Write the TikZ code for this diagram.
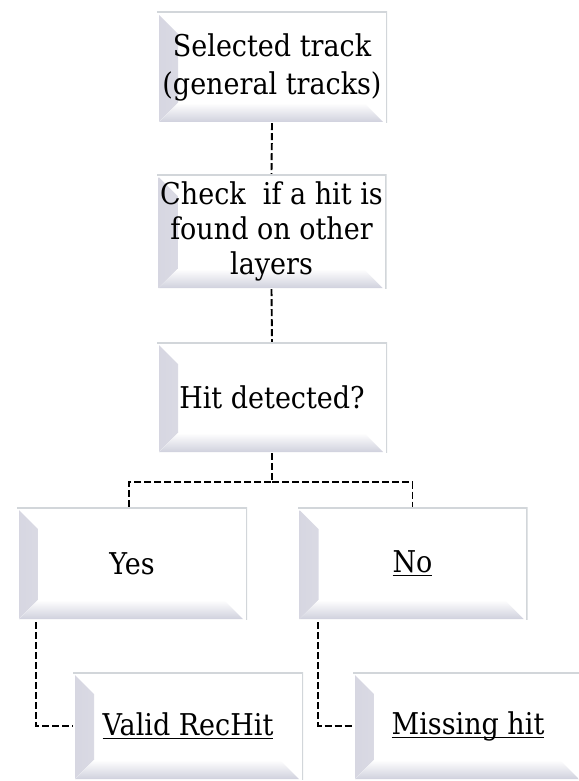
\documentclass[tikz,border=0pt]{standalone}
\usepackage{fontspec}
\setmainfont[FakeStretch=0.9]{DejaVu Serif}
\newcommand\myul[1]{\leavevmode\setbox0=\hbox{#1}\rlap{\copy0}\rule[-4pt]{\wd0}{1.2pt}}
\definecolor{edgegrey}{RGB}{210,214,218}
\definecolor{bevL}{RGB}{214,214,225}
\definecolor{bevB}{RGB}{208,209,221}
\tikzset{
  bevbox/.style={draw=none, fill=white, minimum width=230pt,
    minimum height=111pt, inner sep=0pt, align=center,
    font=\fontsize{30}{38}\selectfont,
    path picture={
      \fill[left color=bevL, right color=white]
        ([shift={(2pt,-3pt)}]path picture bounding box.north west) --
        ([shift={(21pt,-22pt)}]path picture bounding box.north west) --
        ([shift={(21pt,20pt)}]path picture bounding box.south west) --
        ([shift={(2pt,1pt)}]path picture bounding box.south west) -- cycle;
      \fill[top color=white, bottom color=bevB]
        ([shift={(2pt,1pt)}]path picture bounding box.south west) --
        ([shift={(21pt,20pt)}]path picture bounding box.south west) --
        ([shift={(-23pt,20pt)}]path picture bounding box.south east) --
        ([shift={(-4pt,1pt)}]path picture bounding box.south east) -- cycle;
      \draw[edgegrey, line width=3pt]
        (path picture bounding box.north west) --
        (path picture bounding box.north east) --
        (path picture bounding box.south east);
    }},
  conn/.style={draw=black, line width=1.9pt, dash pattern=on 7pt off 3pt}
}
\begin{document}
\begin{tikzpicture}[x=1pt,y=-1pt]
\useasboundingbox (0,0) rectangle (578,781);
\node[bevbox] (b1) at (272,67.5) {Selected track\\(general tracks)};
\node[bevbox, minimum height=115pt, font=\fontsize{30}{35}\selectfont] (b2) at (271.5,231.5) {\rule{0pt}{9pt}Check\ \ if a hit is\\found on other\\layers};
\node[bevbox] (b3) at (272,397.5) {Hit detected?};
\node[bevbox, minimum height=113pt] (yes) at (132,563.5) {Yes};
\node[bevbox, minimum height=113pt] (no) at (412.5,563.5) {\myul{No}};
\node[bevbox, minimum height=108pt] (valid) at (188,726) {\myul{Valid RecHit}};
\node[bevbox, minimum height=108pt] (miss) at (468,726) {\myul{Missing hit}};
\draw[conn] (b1.south) -- (b2.north);
\draw[conn] (b2.south) -- (b3.north);
\coordinate (split) at ([yshift=-29pt]b3.south);
\draw[conn] (b3.south) -- (split) -| ([xshift=-3pt]yes.north);
\draw[conn] (split) -| (no.north);
\draw[conn] ([xshift=19pt,yshift=-2pt]yes.south west) |- (valid.west);
\draw[conn] ([xshift=21pt,yshift=-2pt]no.south west) |- (miss.west);
\end{tikzpicture}
\end{document}
